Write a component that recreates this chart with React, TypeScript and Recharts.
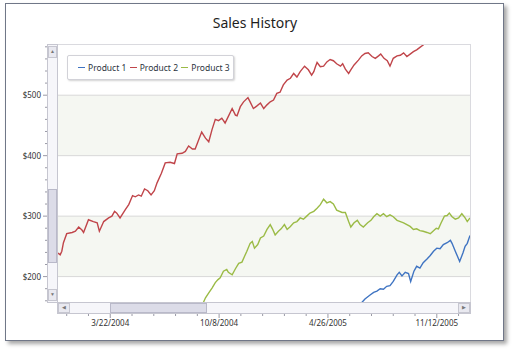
import React from 'react';
import { LineChart, Line, XAxis, YAxis, ReferenceLine, ReferenceArea, Legend } from 'recharts';

// days counted from 1/1/2004
const product1Days = [531, 543, 549, 559, 565, 571, 577, 583, 589, 595, 601, 608, 612, 617, 623, 629, 633, 639, 644, 650, 656, 663, 669, 675, 681, 687, 693, 700, 706, 709, 715, 723, 729, 733, 737, 742];
const product1Sales = [150, 157, 163, 170, 174, 176, 180, 179, 184, 185, 192, 203, 207, 201, 207, 205, 192, 209, 217, 214, 223, 229, 235, 242, 247, 246, 253, 256, 260, 255, 242, 225, 239, 250, 255, 268];

const product2Days = [-15, -11, -8, -5, 1, 11, 17, 23, 29, 32, 41, 50, 57, 61, 69, 78, 84, 89, 93, 99, 109, 115, 122, 127, 133, 138, 144, 150, 156, 162, 167, 175, 182, 191, 199, 204, 213, 219, 225, 232, 237, 243, 249, 256, 262, 268, 274, 280, 286, 292, 298, 305, 311, 314, 320, 326, 334, 338, 344, 350, 357, 363, 369, 375, 381, 387, 393, 399, 406, 412, 418, 424, 430, 438, 445, 451, 455, 458, 461, 467, 473, 479, 485, 491, 497, 504, 508, 513, 519, 523, 529, 537, 543, 549, 555, 562, 568, 574, 578, 584, 590, 595, 601, 608, 614, 620, 626, 632, 638, 644, 650, 656, 662, 670, 680, 700, 742];
const product2Sales = [239, 236, 242, 256, 271, 273, 275, 282, 277, 273, 294, 291, 289, 275, 291, 297, 300, 308, 305, 297, 311, 319, 334, 332, 335, 333, 345, 342, 335, 342, 355, 371, 388, 389, 387, 403, 404, 407, 416, 411, 411, 425, 439, 429, 423, 443, 460, 458, 462, 454, 465, 478, 467, 466, 481, 489, 496, 489, 478, 482, 487, 478, 484, 489, 492, 503, 505, 517, 525, 528, 536, 530, 539, 548, 542, 533, 539, 547, 554, 547, 548, 555, 559, 557, 552, 548, 552, 543, 536, 542, 550, 558, 565, 569, 570, 564, 561, 565, 568, 561, 557, 548, 561, 565, 566, 570, 564, 568, 572, 575, 579, 583, 588, 592, 596, 602, 610];

const product3Days = [219, 237, 246, 252, 256, 262, 268, 274, 279, 283, 289, 295, 298, 305, 311, 317, 323, 328, 332, 338, 342, 346, 352, 357, 363, 369, 375, 379, 384, 390, 395, 401, 406, 412, 418, 424, 430, 436, 442, 448, 455, 461, 467, 473, 479, 485, 491, 497, 507, 513, 519, 523, 529, 535, 540, 546, 554, 560, 565, 571, 577, 583, 589, 595, 601, 608, 614, 620, 626, 632, 638, 644, 650, 656, 663, 669, 675, 680, 684, 689, 695, 700, 704, 709, 715, 721, 727, 733, 737, 742];
const product3Sales = [150, 157, 156, 157, 165, 173, 181, 190, 195, 198, 209, 212, 207, 203, 213, 222, 224, 234, 242, 255, 258, 247, 253, 264, 267, 278, 286, 279, 269, 275, 279, 286, 278, 283, 289, 291, 297, 295, 300, 305, 308, 313, 319, 328, 322, 324, 320, 310, 306, 306, 291, 282, 289, 293, 286, 282, 289, 293, 299, 304, 300, 304, 299, 302, 299, 293, 291, 289, 286, 283, 278, 279, 276, 275, 273, 271, 276, 280, 279, 289, 300, 301, 305, 299, 295, 297, 304, 297, 291, 297];

const seriesNames = ['Product 1', 'Product 2', 'Product 3'];
const seriesColors = ['#3f74c2', '#c0454a', '#9bbb46'];

const yTicks = [160, 180, 200, 220, 240, 260, 280, 300, 320, 340, 360, 380, 400, 420, 440, 460, 480, 500, 520, 540, 560, 580];
const yBands = [[200, 300], [400, 500]];
const yGrid = [200, 300, 400, 500];
const xTicks = [1, 41, 81, 121, 161, 201, 241, 281, 321, 361, 401, 441, 481, 521, 561, 601, 641, 681, 721];
const xMajor = [81, 281, 481, 681];

const toPoints = (days: number[], values: number[]) => days.map((day, i) => ({ day, value: values[i] }));
const series = [
  toPoints(product1Days, product1Sales),
  toPoints(product2Days, product2Sales),
  toPoints(product3Days, product3Sales),
];

const FONT = '"Noto Sans", "Open Sans", sans-serif';

const formatDate = (day: number) => {
  const d = new Date(2004, 0, 1 + day);
  return `${d.getMonth() + 1}/${d.getDate()}/${d.getFullYear()}`;
};

const XTick = (props: any) => {
  const { x, y, payload } = props;
  const major = xMajor.includes(payload.value);
  return (
    <g>
      <line x1={x} x2={x} y1={y + 11} y2={y + (major ? 16 : 14)} stroke="#9a9aa6" />
      {major && (
        <text x={x} y={y + 24} textAnchor="middle" fontSize={8} fill="#333" fontFamily={FONT}>
          {formatDate(payload.value)}
        </text>
      )}
    </g>
  );
};

const YTick = (props: any) => {
  const { x, y, payload } = props;
  const major = payload.value % 100 === 0;
  return (
    <g>
      <line x1={x - (major ? 15 : 13)} x2={x - 11} y1={y} y2={y} stroke="#9a9aa6" />
      {major && (
        <text x={x - 17} y={y + 3} textAnchor="end" fontSize={8} fill="#333" fontFamily={FONT}>
          ${payload.value}
        </text>
      )}
    </g>
  );
};

const renderLegend = () => (
  <div
    style={{
      width: 167,
      height: 25,
      boxSizing: 'border-box',
      border: '1px solid #d2d2d8',
      borderRadius: 2,
      background: '#fff',
      boxShadow: '1px 1px 2px rgba(0,0,0,0.18)',
      display: 'flex',
      alignItems: 'center',
      paddingLeft: 10,
      fontFamily: FONT,
      fontSize: 8.5,
      color: '#2b3340',
    }}
  >
    {seriesNames.map((name, i) => (
      <div key={name} style={{ display: 'flex', alignItems: 'center', width: 52 }}>
        <span style={{ width: 7, height: 1.5, background: seriesColors[i], marginRight: 3 }} />
        <span>{name}</span>
      </div>
    ))}
  </div>
);

const box = (left: number, top: number, width: number, height: number, extra: React.CSSProperties = {}): React.CSSProperties => ({
  position: 'absolute',
  left,
  top,
  width,
  height,
  boxSizing: 'border-box',
  ...extra,
});

const App = () => {
  return (
    <div style={{ position: 'absolute', left: 0, top: 0, width: 514, height: 352, background: '#fff', overflow: 'hidden' }}>
      <div style={box(5, 3, 499, 338, { border: '1px solid #707788', background: '#fff', boxShadow: '3px 3px 4px rgba(0,0,0,0.35)' })} />
      <div style={{ position: 'absolute', left: 0, top: 13, width: 510, textAlign: 'center', fontFamily: FONT, fontSize: 14, color: '#1e1e1e' }}>
        Sales History
      </div>
      <div style={{ position: 'absolute', left: 0, top: 0 }}>
        <LineChart width={514} height={352} margin={{ top: 45, right: 44, left: 0, bottom: 20 }}>
          <XAxis
            type="number"
            dataKey="day"
            domain={[-15, 742]}
            allowDataOverflow
            ticks={xTicks}
            interval={0}
            tick={XTick}
            tickSize={0}
            tickMargin={0}
            axisLine={false}
            tickLine={false}
            height={30}
          />
          <YAxis
            type="number"
            domain={[158, 583]}
            allowDataOverflow
            ticks={yTicks}
            interval={0}
            tick={YTick}
            tickSize={0}
            tickMargin={0}
            axisLine={false}
            tickLine={false}
            width={58}
          />
          {yBands.map(([a, b]) => (
            <ReferenceArea key={a} y1={a} y2={b} fill="#f5f7f2" fillOpacity={1} stroke="none" />
          ))}
          {yGrid.map((v) => (
            <ReferenceLine key={v} y={v} stroke="#d8d8d8" />
          ))}
          {series.map((data, i) => (
            <Line
              key={seriesNames[i]}
              data={data}
              dataKey="value"
              name={seriesNames[i]}
              stroke={seriesColors[i]}
              strokeWidth={1.4}
              dot={false}
              isAnimationActive={false}
            />
          ))}
          <Legend
            layout="horizontal"
            verticalAlign="middle"
            align="center"
            content={renderLegend}
            wrapperStyle={{ left: 67, top: 55, width: 167, height: 25 }}
          />
        </LineChart>
      </div>
      {/* plot border */}
      <div style={box(57, 44, 414, 259, { border: '1px solid #dadadf', pointerEvents: 'none' })} />
      {/* vertical scrollbar */}
      <div style={box(47, 44, 11, 259, { background: '#f6f6fa', border: '1px solid #c6c6d0' })} />
      <div style={box(48, 46, 9, 12, { background: '#e9e9f0', border: '1px solid #c6c6d0', fontSize: 5, color: '#777', textAlign: 'center', lineHeight: '10px' })}>▲</div>
      <div style={box(48, 189, 9, 74, { background: '#dcdce8', border: '1px solid #b9b9c9' })} />
      <div style={box(48, 289, 9, 12, { background: '#e9e9f0', border: '1px solid #c6c6d0', fontSize: 5, color: '#777', textAlign: 'center', lineHeight: '10px' })}>▼</div>
      {/* horizontal scrollbar */}
      <div style={box(57, 302, 414, 12, { background: '#f6f6fa', border: '1px solid #c6c6d0' })} />
      <div style={box(58, 303, 12, 10, { background: '#e9e9f0', border: '1px solid #c6c6d0', fontSize: 5, color: '#777', textAlign: 'center', lineHeight: '8px' })}>◀</div>
      <div style={box(110, 303, 97, 10, { background: '#dcdce8', border: '1px solid #b9b9c9' })} />
      <div style={box(458, 303, 12, 10, { background: '#e9e9f0', border: '1px solid #c6c6d0', fontSize: 5, color: '#777', textAlign: 'center', lineHeight: '8px' })}>▶</div>
    </div>
  );
};

export default App;
